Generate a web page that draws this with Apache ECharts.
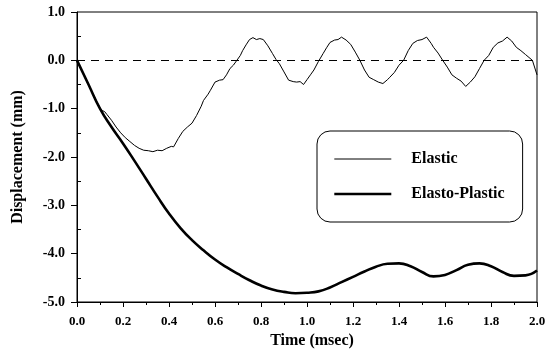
<!DOCTYPE html>
<html><head><meta charset="utf-8">
<script src="https://cdn.jsdelivr.net/npm/echarts@6/dist/echarts.min.js"></script>
<style>html,body{margin:0;padding:0;background:#fff}#c{width:556px;height:349px}</style>
</head><body><div id="c"></div>
<script>
const seriesNames = ['Elastic', 'Elasto-Plastic'];
const elastic = [[0,0],[0.02,-0.2],[0.04,-0.41],[0.06,-0.6],[0.08,-0.8],[0.1,-0.99],[0.11,-1.04],[0.12,-1.06],[0.13,-1.12],[0.15,-1.24],[0.17,-1.38],[0.19,-1.5],[0.21,-1.6],[0.23,-1.68],[0.25,-1.76],[0.27,-1.82],[0.29,-1.86],[0.31,-1.87],[0.33,-1.89],[0.35,-1.86],[0.37,-1.87],[0.39,-1.82],[0.41,-1.78],[0.42,-1.79],[0.44,-1.62],[0.46,-1.47],[0.48,-1.38],[0.5,-1.3],[0.52,-1.14],[0.54,-0.95],[0.55,-0.83],[0.57,-0.7],[0.58,-0.62],[0.6,-0.45],[0.62,-0.41],[0.635,-0.4],[0.65,-0.3],[0.665,-0.17],[0.68,-0.1],[0.695,0],[0.71,0.1],[0.72,0.2],[0.735,0.32],[0.75,0.43],[0.765,0.47],[0.78,0.43],[0.795,0.45],[0.81,0.43],[0.83,0.3],[0.85,0.14],[0.865,0.02],[0.88,-0.07],[0.9,-0.24],[0.92,-0.41],[0.94,-0.44],[0.955,-0.45],[0.97,-0.44],[0.985,-0.5],[1.0,-0.4],[1.015,-0.3],[1.03,-0.2],[1.05,-0.02],[1.07,0.14],[1.085,0.26],[1.1,0.37],[1.12,0.42],[1.135,0.43],[1.15,0.48],[1.17,0.42],[1.19,0.33],[1.21,0.17],[1.23,0],[1.25,-0.2],[1.27,-0.35],[1.29,-0.4],[1.31,-0.45],[1.33,-0.48],[1.35,-0.4],[1.36,-0.35],[1.38,-0.25],[1.4,-0.1],[1.42,0],[1.44,0.2],[1.46,0.35],[1.48,0.41],[1.5,0.43],[1.52,0.48],[1.54,0.35],[1.55,0.27],[1.57,0.15],[1.59,0],[1.61,-0.14],[1.63,-0.3],[1.65,-0.37],[1.67,-0.43],[1.69,-0.54],[1.71,-0.45],[1.73,-0.34],[1.75,-0.17],[1.77,0],[1.79,0.1],[1.81,0.27],[1.83,0.36],[1.85,0.4],[1.87,0.48],[1.89,0.4],[1.91,0.27],[1.93,0.2],[1.95,0.12],[1.98,0],[2.0,-0.3]];
const plastic = [[0,0],[0.05,-0.5],[0.1,-1.0],[0.15,-1.38],[0.2,-1.72],[0.25,-2.08],[0.3,-2.45],[0.35,-2.82],[0.4,-3.17],[0.45,-3.47],[0.5,-3.72],[0.55,-3.93],[0.6,-4.12],[0.65,-4.28],[0.7,-4.42],[0.75,-4.55],[0.8,-4.66],[0.85,-4.74],[0.9,-4.79],[0.95,-4.82],[1.0,-4.81],[1.05,-4.78],[1.1,-4.7],[1.15,-4.59],[1.2,-4.48],[1.25,-4.37],[1.3,-4.27],[1.35,-4.21],[1.4,-4.2],[1.45,-4.26],[1.5,-4.38],[1.55,-4.47],[1.6,-4.44],[1.65,-4.34],[1.7,-4.23],[1.75,-4.2],[1.8,-4.26],[1.85,-4.38],[1.9,-4.46],[1.95,-4.45],[2.0,-4.35]];
const zeroLine = 0;
const xRange = [0, 2], xStep = 0.2;
const yRange = [-5, 1], yStep = 1;
const yMinorTicks = [0.5, -0.5, -1.5, -2.5, -3.5, -4.5];

const F = '"Liberation Serif", "Times New Roman", serif';
const chart = echarts.init(document.getElementById('c'), null, {renderer: 'canvas'});
chart.setOption({
  animation: false,
  backgroundColor: '#fff',
  grid: {left: 77, right: 19, top: 12, bottom: 47, show: true, borderColor: '#000', borderWidth: 1, outerBoundsMode: 'none', containLabel: false},
  legend: {
    left: 317, top: 131, orient: 'vertical',
    padding: [20, 18, 20, 16], itemGap: 19, itemWidth: 57, itemHeight: 16,
    backgroundColor: '#fff', borderColor: '#000', borderWidth: 1, borderRadius: 13,
    itemStyle: {opacity: 0},
    textStyle: {fontFamily: F, fontWeight: 'bold', fontSize: 16, color: '#000', padding: [0, 0, 0, 15], lineHeight: 16},
    data: [
      {name: seriesNames[0], lineStyle: {width: 1, color: '#000'}},
      {name: seriesNames[1], lineStyle: {width: 2.6, color: '#000'}}
    ]
  },
  xAxis: {
    type: 'value', min: xRange[0], max: xRange[1], interval: xStep,
    name: 'Time (msec)', nameLocation: 'middle', nameGap: 31,
    nameTextStyle: {fontFamily: F, fontWeight: 'bold', fontSize: 16, color: '#000', padding: [0, 0, 0, 10]},
    axisLine: {show: true, onZero: false, lineStyle: {color: '#000', width: 1}},
    axisTick: {show: true, inside: false, length: 5, lineStyle: {color: '#000'}},
    minorTick: {show: true, splitNumber: 2, length: 3, lineStyle: {color: '#000'}},
    axisLabel: {margin: 13, fontFamily: F, fontWeight: 'bold', fontSize: 13, color: '#000', formatter: v => v.toFixed(1)},
    splitLine: {show: false}
  },
  yAxis: [{
    type: 'value', min: yRange[0], max: yRange[1], interval: yStep,
    name: 'Displacement (mm)', nameLocation: 'middle', nameGap: 51,
    nameTextStyle: {fontFamily: F, fontWeight: 'bold', fontSize: 16, color: '#000'},
    axisLine: {show: true, onZero: false, lineStyle: {color: '#000', width: 1}},
    axisTick: {show: true, inside: false, length: 6, lineStyle: {color: '#000'}},
    axisLabel: {margin: 12, fontFamily: F, fontWeight: 'bold', fontSize: 14, color: '#000', formatter: v => v.toFixed(1)},
    splitLine: {show: false}
  }, {
    type: 'value', min: yRange[0], max: yRange[1], position: 'left',
    axisLine: {show: false},
    axisTick: {show: true, inside: true, length: 4, customValues: yMinorTicks, lineStyle: {color: '#000'}},
    axisLabel: {show: false},
    splitLine: {show: false}
  }],
  series: [{
    name: seriesNames[0], type: 'line', data: elastic, symbol: 'none', showSymbol: false, smooth: false,
    lineStyle: {color: '#000', width: 1}, itemStyle: {color: '#000'},
    markLine: {silent: true, symbol: 'none', label: {show: false},
      lineStyle: {color: '#000', width: 1.2, type: [8, 6]}, data: [{yAxis: zeroLine}]}
  }, {
    name: seriesNames[1], type: 'line', data: plastic, symbol: 'none', showSymbol: false, smooth: true,
    lineStyle: {color: '#000', width: 2.6}, itemStyle: {color: '#000'}
  }]
});
</script></body></html>
